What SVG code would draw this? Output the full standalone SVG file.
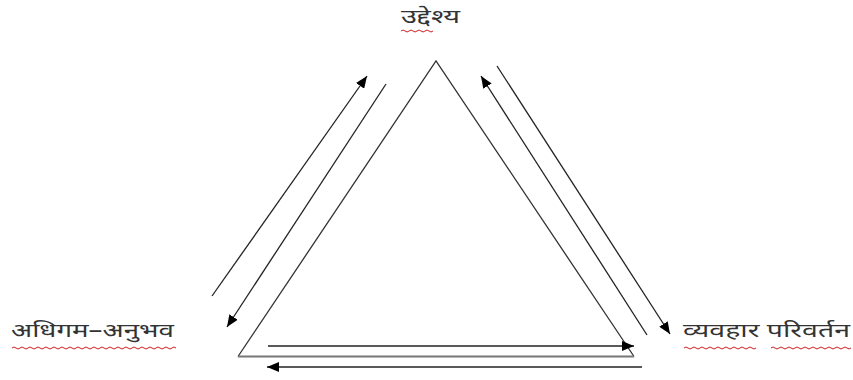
<svg xmlns="http://www.w3.org/2000/svg" width="853" height="380" viewBox="0 0 853 380">
<defs>
<marker id="ah" viewBox="0 0 12 10" refX="12" refY="5" markerWidth="12" markerHeight="10" markerUnits="userSpaceOnUse" orient="auto">
<path d="M0,0 L12,5 L0,10 z" fill="#000"/>
</marker>
<style>
.lbl{font-family:"Noto Sans Devanagari","Noto Sans","DejaVu Sans",sans-serif;font-size:19px;fill:#333}
.conn{stroke:#222;stroke-width:1.3;fill:none}
.wavy{stroke:#d02020;stroke-width:1;fill:none}
</style>
</defs>
<rect width="853" height="380" fill="#fff"/>
<g id="triangle">
<path d="M238,356.5 L436,61 L634,356.5" fill="none" stroke="#333" stroke-width="1.3"/>
<line x1="238" y1="356.5" x2="634" y2="356.5" stroke="#777" stroke-width="2.2"/>
</g>
<g id="node-top">
<text class="lbl" x="401" y="23" textLength="59" lengthAdjust="spacingAndGlyphs">उद्देश्य</text>
<path class="wavy" d="M401,31 q2,-2 4,0 t4,0 t4,0 t4,0 t4,0 t4,0 t4,0 t4,0"/>
</g>
<g id="node-left">
<text class="lbl" x="11" y="337" textLength="163" lengthAdjust="spacingAndGlyphs">अधिगम–अनुभव</text>
<path class="wavy" d="M12,348 q2,-2 4,0 t4,0 t4,0 t4,0 t4,0 t4,0 t4,0 t4,0 t4,0 t4,0 t4,0 t4,0 t4,0 t4,0 t4,0 t4,0 t4,0 t4,0 t4,0 t4,0 t4,0 t4,0 t4,0 t4,0 t4,0 t4,0 t4,0 t4,0 t4,0 t4,0 t4,0 t4,0 t4,0 t4,0 t4,0 t4,0 t4,0 t4,0 t4,0 t4,0 t4,0"/>
</g>
<g id="node-right">
<text class="lbl" x="683" y="337" textLength="167" lengthAdjust="spacingAndGlyphs">व्यवहार परिवर्तन</text>
<path class="wavy" d="M684,348 q2,-2 4,0 t4,0 t4,0 t4,0 t4,0 t4,0 t4,0 t4,0 t4,0 t4,0 t4,0 t4,0 t4,0 t4,0 t4,0 t4,0 t4,0 t4,0"/>
<path class="wavy" d="M771,348 q2,-2 4,0 t4,0 t4,0 t4,0 t4,0 t4,0 t4,0 t4,0 t4,0 t4,0 t4,0 t4,0 t4,0 t4,0 t4,0 t4,0 t4,0 t4,0 t4,0 t4,0"/>
</g>
<g id="connectors">
<line class="conn" x1="212" y1="296" x2="367" y2="76" marker-end="url(#ah)"/>
<line class="conn" x1="386" y1="84" x2="227" y2="327" marker-end="url(#ah)"/>
<line class="conn" x1="647" y1="335" x2="481" y2="76" marker-end="url(#ah)"/>
<line class="conn" x1="497" y1="66" x2="670" y2="334" marker-end="url(#ah)"/>
<line class="conn" x1="268" y1="346" x2="634" y2="346" marker-end="url(#ah)"/>
<line class="conn" x1="642" y1="367" x2="267" y2="367" marker-end="url(#ah)"/>
</g>
</svg>
